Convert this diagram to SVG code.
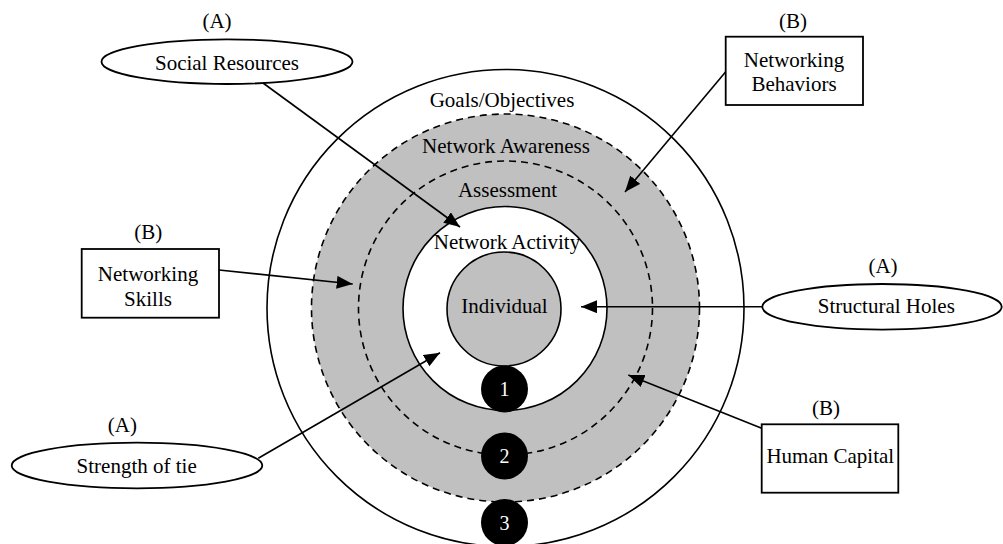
<svg xmlns="http://www.w3.org/2000/svg" width="1003" height="544" viewBox="0 0 1003 544">
<style>
text{font-family:"Liberation Serif","Times New Roman",serif;font-size:21px;fill:#000;text-anchor:middle}
.ln{stroke:#000;stroke-width:1.6;fill:none}
.nd{stroke:#000;stroke-width:1.8;fill:#fff}
.dash{stroke:#000;stroke-width:1.6;stroke-dasharray:7 5}
.num{fill:#fff;font-size:20px}
</style>
<defs>
<marker id="ah" markerUnits="userSpaceOnUse" markerWidth="17" markerHeight="14" refX="16" refY="6.5" orient="auto">
<path d="M0,0 L16,6.5 L0,13 z" fill="#000"/>
</marker>
</defs>
<rect width="1003" height="544" fill="#fff"/>
<g id="rings">
<circle cx="505.5" cy="308" r="238.5" class="ln" fill="#fff"/>
<circle cx="505.5" cy="308" r="194" fill="#c0c0c0" class="dash"/>
<circle cx="505.5" cy="308" r="147" fill="none" class="dash"/>
<circle cx="505" cy="308.5" r="102" fill="#fff" stroke="#000" stroke-width="1.6"/>
<circle cx="504" cy="309" r="57" fill="#c0c0c0" stroke="#000" stroke-width="1.6"/>
<text x="502" y="106.5">Goals/Objectives</text>
<text x="506" y="153">Network Awareness</text>
<text x="507.5" y="196.5">Assessment</text>
<text x="507" y="249">Network Activity</text>
<text x="504.5" y="312.5">Individual</text>
</g>
<g id="stage1"><circle cx="504.5" cy="389" r="23.5" fill="#000"/><text class="num" x="504.5" y="396">1</text></g>
<g id="stage2"><circle cx="504.5" cy="456" r="23.5" fill="#000"/><text class="num" x="504.5" y="463">2</text></g>
<g id="stage3"><circle cx="504.5" cy="522.5" r="23.5" fill="#000"/><text class="num" x="504.5" y="529.5">3</text></g>
<g id="connectors">
<line class="ln" x1="263" y1="83" x2="460" y2="227" marker-end="url(#ah)"/>
<line class="ln" x1="725.7" y1="71.7" x2="625" y2="192" marker-end="url(#ah)"/>
<line class="ln" x1="219" y1="270" x2="352.7" y2="284" marker-end="url(#ah)"/>
<line class="ln" x1="258.3" y1="458.3" x2="440" y2="352.7" marker-end="url(#ah)"/>
<line class="ln" x1="762.3" y1="306.7" x2="581" y2="306.7" marker-end="url(#ah)"/>
<line class="ln" x1="761.7" y1="428.3" x2="628.3" y2="375" marker-end="url(#ah)"/>
</g>
<g id="social-resources">
<text x="217" y="28">(A)</text>
<ellipse class="nd" cx="227" cy="61.7" rx="125.5" ry="22.3"/>
<text x="227" y="70">Social Resources</text>
</g>
<g id="networking-behaviors">
<text x="793" y="28">(B)</text>
<rect class="nd" x="725.7" y="36.7" width="137.3" height="68.3"/>
<text x="794" y="66.7">Networking</text>
<text x="794" y="90.7">Behaviors</text>
</g>
<g id="networking-skills">
<text x="148.3" y="239">(B)</text>
<rect class="nd" x="81.7" y="249" width="137.3" height="68.7"/>
<text x="148" y="280.7">Networking</text>
<text x="148" y="306">Skills</text>
</g>
<g id="strength-of-tie">
<text x="122.3" y="432">(A)</text>
<ellipse class="nd" cx="137" cy="465.5" rx="125.3" ry="22.8"/>
<text x="136.7" y="473.3">Strength of tie</text>
</g>
<g id="structural-holes">
<text x="883" y="273">(A)</text>
<ellipse class="nd" cx="882" cy="306.8" rx="119.7" ry="22.8"/>
<text x="886.3" y="312.7">Structural Holes</text>
</g>
<g id="human-capital">
<text x="826" y="415">(B)</text>
<rect class="nd" x="761.7" y="424.3" width="136.6" height="68.4"/>
<text x="830.3" y="462.7">Human Capital</text>
</g>
</svg>
